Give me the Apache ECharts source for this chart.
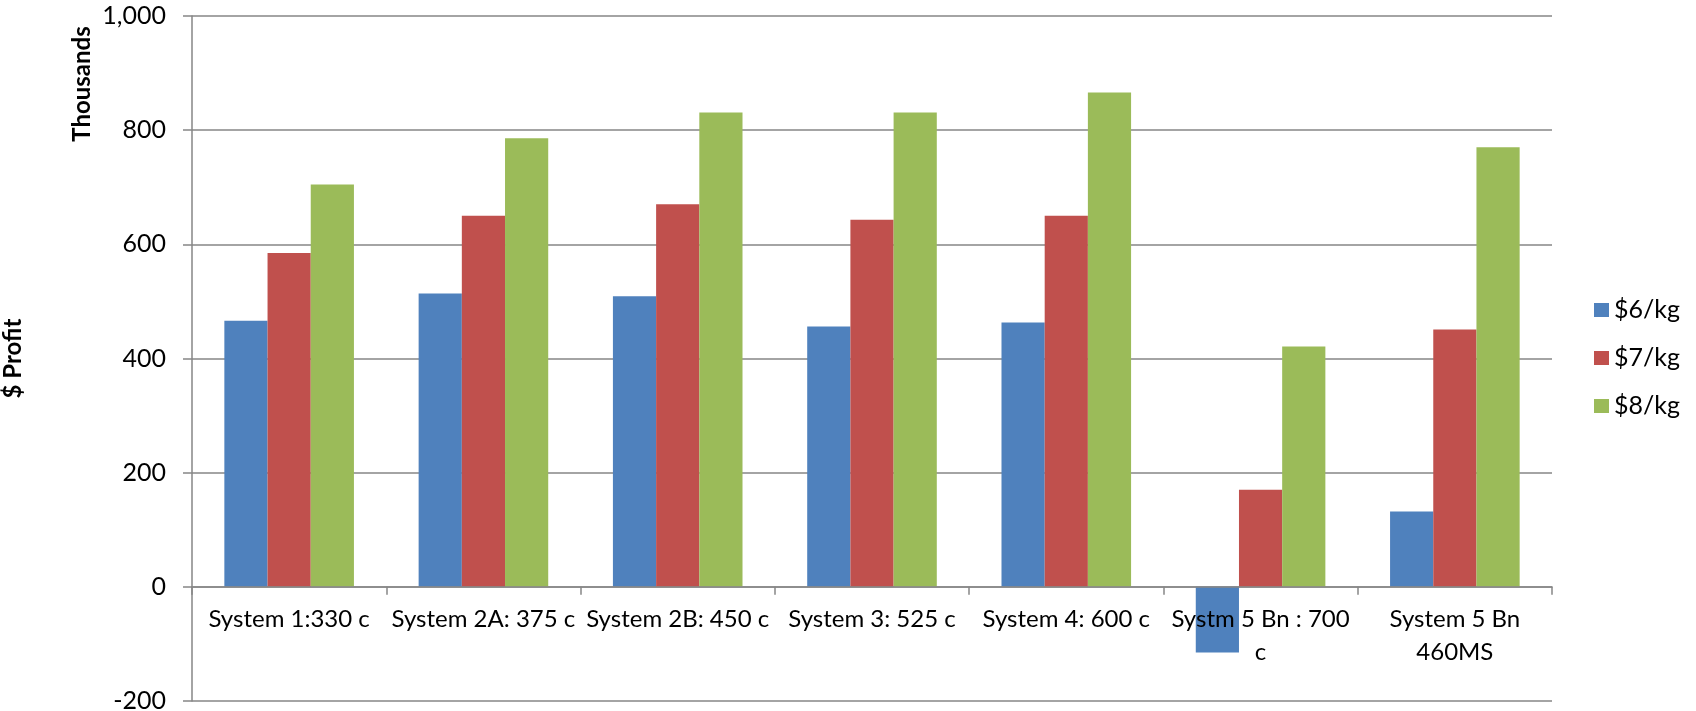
<!DOCTYPE html>
<html>
<head>
<meta charset="utf-8">
<title>$ Profit by system</title>
<script src="https://cdn.jsdelivr.net/npm/echarts@6/dist/echarts.min.js"></script>
<style>
  html, body { margin: 0; padding: 0; background: #ffffff; }
  #chart { width: 1696px; height: 711px; }
</style>
</head>
<body>
<div id="chart"></div>
<script>
// Profit per system, in thousands of dollars, at three selling prices
const categories = [
  'System 1:330 c',
  'System 2A: 375 c',
  'System 2B: 450 c',
  'System 3: 525 c',
  'System 4: 600 c',
  'Systm 5 Bn : 700\nc',
  'System 5 Bn\n460MS'
];
const seriesNames = ['$6/kg', '$7/kg', '$8/kg'];
const profit6 = [466, 514, 509, 456, 463, -115, 132];
const profit7 = [585, 650, 670, 643, 650, 170, 451];
const profit8 = [705, 786, 831, 831, 866, 421, 770];
const yTicks = { min: -200, max: 1000, step: 200 };

const colors = ['#4F81BD', '#C0504D', '#9BBB59'];
const gridGray = '#868686';
const fontFamily = 'Lato, "Open Sans", sans-serif';

const chart = echarts.init(document.getElementById('chart'), null, { renderer: 'canvas' });

function barSeries(name, values, color) {
  return {
    name: name,
    type: 'bar',
    z: 2,
    data: values,
    barGap: '0%',
    barCategoryGap: '33.3%',
    itemStyle: { color: color },
    emphasis: { disabled: true }
  };
}

chart.setOption({
  animation: false,
  textStyle: { fontFamily: fontFamily, color: '#000' },
  grid: { left: 192, right: 144, top: 16, bottom: 10, containLabel: false, outerBoundsMode: 'none' },
  legend: {
    orient: 'vertical',
    left: 1594,
    top: 296,
    padding: 0,
    itemWidth: 15,
    itemHeight: 14,
    itemGap: 20,
    icon: 'rect',
    selectedMode: false,
    data: seriesNames,
    textStyle: { fontFamily: fontFamily, fontSize: 25, lineHeight: 28, color: '#000' }
  },
  xAxis: {
    type: 'category',
    z: 5,
    data: categories,
    boundaryGap: true,
    offset: 0,
    axisLine: { onZero: false, lineStyle: { color: gridGray, width: 1.5 } },
    axisTick: { show: true, alignWithLabel: false, length: 8, lineStyle: { color: gridGray, width: 1.5 } },
    axisLabel: {
      interval: 0,
      margin: 16,
      fontFamily: fontFamily,
      fontSize: 24,
      lineHeight: 33,
      color: '#000',
      align: 'center'
    },
    splitLine: { show: false }
  },
  yAxis: {
    type: 'value',
    min: yTicks.min,
    max: yTicks.max,
    interval: yTicks.step,
    name: '$ Profit',
    nameLocation: 'middle',
    nameRotate: 90,
    nameGap: 167,
    nameTextStyle: { fontFamily: fontFamily, fontSize: 24, fontWeight: 'bold', color: '#000' },
    axisLine: { show: true, lineStyle: { color: gridGray, width: 1.5 } },
    axisTick: { show: true, length: 9, lineStyle: { color: gridGray, width: 1.5 } },
    axisLabel: {
      margin: 26,
      fontFamily: fontFamily,
      fontSize: 25,
      color: '#000',
      formatter: function (v) { return v.toLocaleString('en-US'); }
    },
    splitLine: { show: true, lineStyle: { color: gridGray, width: 1.5 } }
  },
  graphic: [{
    type: 'text',
    x: 82,
    y: 84,
    rotation: Math.PI / 2,
    style: {
      text: 'Thousands',
      fontFamily: fontFamily,
      fontSize: 24,
      fontWeight: 'bold',
      fill: '#000',
      align: 'center',
      verticalAlign: 'middle'
    }
  }],
  series: [
    barSeries(seriesNames[0], profit6, colors[0]),
    barSeries(seriesNames[1], profit7, colors[1]),
    barSeries(seriesNames[2], profit8, colors[2])
  ]
});

// Lift the category axis (line, ticks and labels) from the plot bottom up to the zero line
const yZero = chart.convertToPixel({ yAxisIndex: 0 }, 0);
const yBottom = chart.convertToPixel({ yAxisIndex: 0 }, yTicks.min);
chart.setOption({ xAxis: { offset: yZero - yBottom } });
</script>
</body>
</html>
